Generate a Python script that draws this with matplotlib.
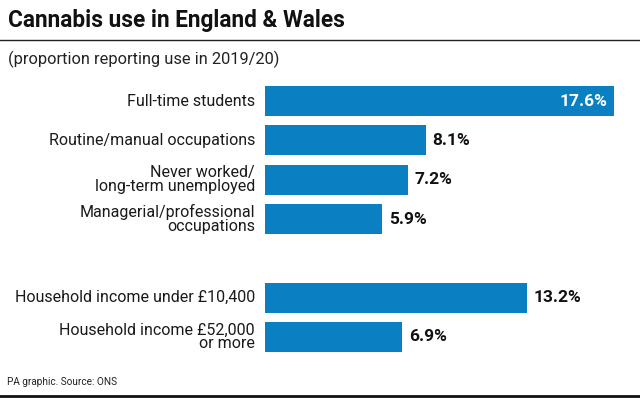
import matplotlib
matplotlib.use("Agg")
import matplotlib.pyplot as plt
from matplotlib.lines import Line2D

categories = ["Full-time students", "Routine/manual occupations",
              "Never worked/\nlong-term unemployed",
              "Managerial/professional\noccupations",
              "Household income under £10,400",
              "Household income £52,000\nor more"]
values = [17.6, 8.1, 7.2, 5.9, 13.2, 6.9]
positions = [0, 1, 2, 3, 5, 6]
value_labels = ["17.6%", "8.1%", "7.2%", "5.9%", "13.2%", "6.9%"]

plt.rcParams['font.family'] = ['Roboto', 'DejaVu Sans']
W, H = 640, 398
fig = plt.figure(figsize=(W/100, H/100), dpi=100)
fig.patch.set_facecolor("white")

left, right = 265, 640
top, bottom = 81, 357
ax = fig.add_axes([left/W, 1-bottom/H, (right-left)/W, (bottom-top)/H])
blue = "#0a80c2"
ax.barh(positions, values, height=0.76, color=blue)
ax.set_xlim(0, 18.91)
ax.set_ylim(6.5085, -0.5085)
ax.axis("off")

for p, v, lab in zip(positions, values, value_labels):
    if v > 15:
        ax.text(v - 0.35, p, lab, ha="right", va="center", color="white",
                fontsize=12.5, fontweight="bold")
    else:
        ax.text(v + 0.35, p, lab, ha="left", va="center", color="#111111",
                fontsize=12.5, fontweight="bold")

for p, c in zip(positions, categories):
    ax.text(-0.5, p, c, ha="right", va="center", fontsize=11.5,
            color="#1a1a1a", linespacing=0.9)

fig.text(8/W, 1-21/H, "Cannabis use in England & Wales", fontsize=16.3,
         fontweight="bold", va="center", ha="left", color="#111111")
fig.add_artist(Line2D([0, 1], [1-40/H, 1-40/H], color="#222222", lw=1))
fig.text(8/W, 1-59/H, "(proportion reporting use in 2019/20)", fontsize=11.8,
         va="center", ha="left", color="#222222")
fig.text(7/W, 1-382/H, "PA graphic. Source: ONS", fontsize=7.2,
         va="center", ha="left", color="#222222")
fig.add_artist(Line2D([0, 1], [1-396/H, 1-396/H], color="#111111", lw=2))

fig.savefig("out.png", dpi=100)
